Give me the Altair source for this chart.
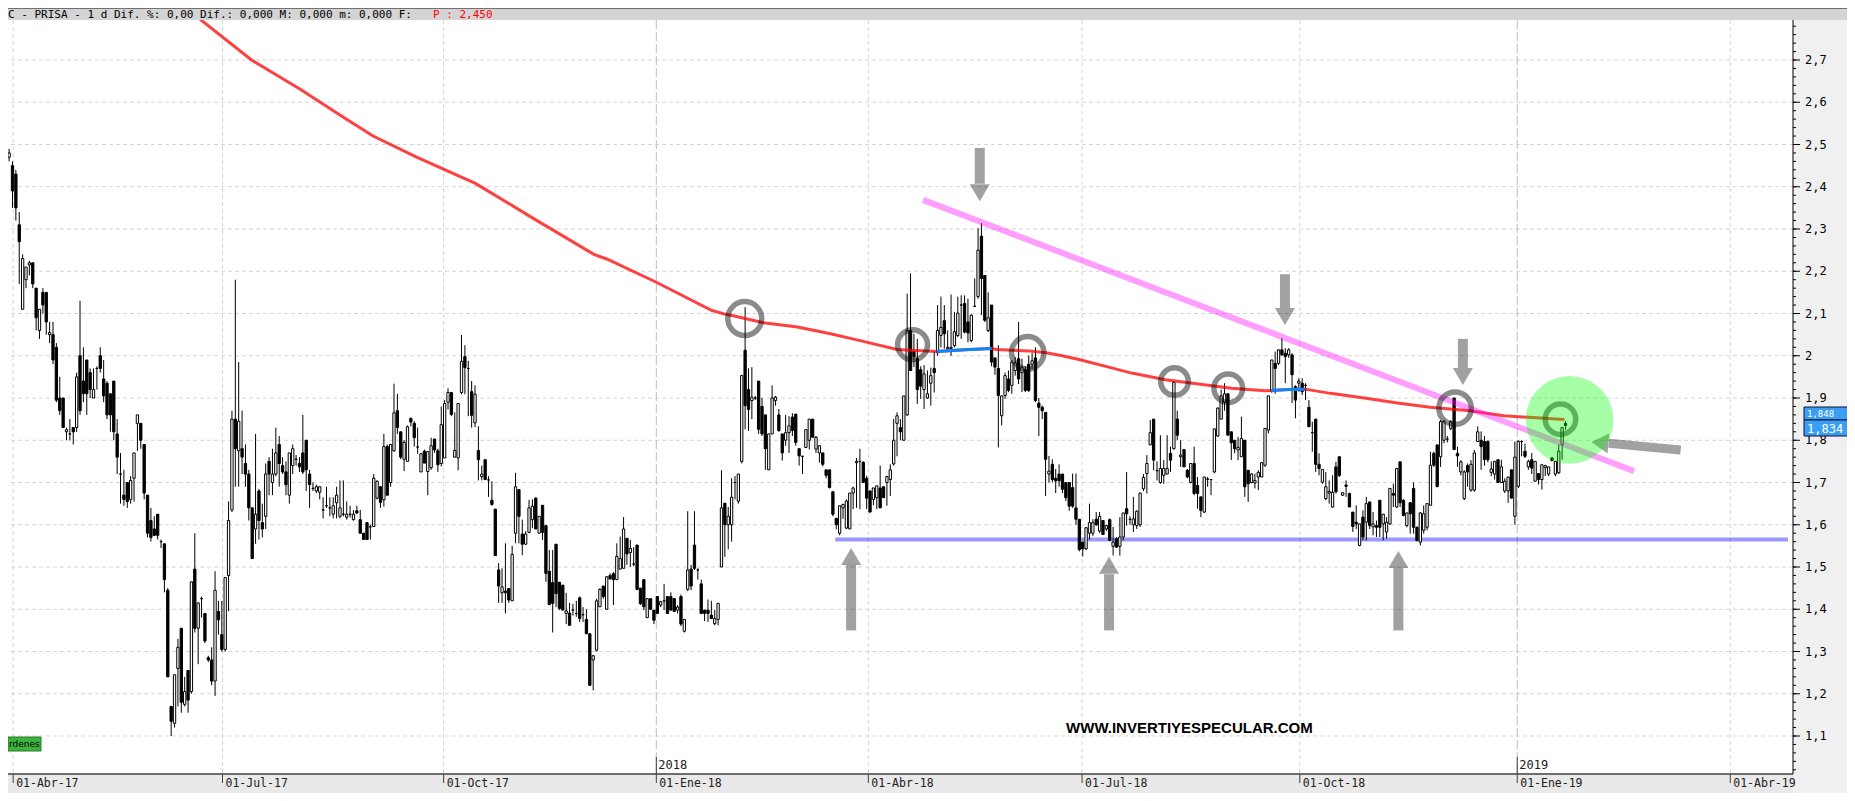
import altair as alt
import pandas as pd

# ---------------- candle data, by segment ----------------
open_a = [2.52, 2.47, 2.45, 2.43, 2.31, 2.11, 2.18, 2.215, 2.22, 2.16,
          2.06, 2.15, 2.15, 2.05, 2.05, 2.02, 1.90, 1.90, 1.82, 1.815,
          1.83, 1.83, 2.00, 1.94, 1.99, 1.96, 1.90, 1.97, 2.00, 1.945,
          1.935, 1.91, 1.94, 1.815, 1.72, 1.67, 1.70, 1.66, 1.71, 1.84,
          1.84, 1.79, 1.67, 1.61, 1.59, 1.625, 1.56, 1.555, 1.445, 1.17,
          1.13, 1.26, 1.355, 1.175, 1.255, 1.205, 1.495, 1.355, 1.425, 1.39,
          1.285, 1.28, 1.23, 1.395, 1.34, 1.305, 1.48, 1.635, 1.85, 1.775,
          1.78, 1.745, 1.72, 1.64, 1.59, 1.68, 1.605, 1.62, 1.75, 1.70,
          1.72, 1.79, 1.74, 1.725, 1.67, 1.74, 1.755, 1.745, 1.77, 1.80,
          1.72, 1.686, 1.68, 1.677, 1.635, 1.645, 1.64, 1.625, 1.652, 1.62,
          1.625, 1.618, 1.625, 1.612, 1.633, 1.612, 1.58, 1.605, 1.595, 1.596]
high_a = [2.53, 2.49, 2.46, 2.44, 2.34, 2.24, 2.21, 2.225, 2.22, 2.16,
          2.11, 2.16, 2.15, 2.08, 2.08, 2.03, 1.95, 1.90, 1.83, 1.85,
          1.83, 1.96, 2.13, 2.02, 1.99, 1.97, 1.97, 1.975, 2.02, 1.99,
          1.94, 1.91, 1.94, 1.85, 1.77, 1.73, 1.70, 1.715, 1.77, 1.86,
          1.84, 1.79, 1.67, 1.64, 1.62, 1.625, 1.565, 1.555, 1.45, 1.17,
          1.245, 1.33, 1.355, 1.24, 1.255, 1.465, 1.58, 1.415, 1.43, 1.39,
          1.29, 1.31, 1.49, 1.42, 1.42, 1.475, 1.655, 1.87, 2.18, 1.985,
          1.87, 1.79, 1.73, 1.64, 1.815, 1.685, 1.65, 1.745, 1.76, 1.78,
          1.83, 1.81, 1.76, 1.75, 1.77, 1.79, 1.765, 1.76, 1.86, 1.80,
          1.73, 1.70, 1.695, 1.69, 1.665, 1.69, 1.665, 1.665, 1.69, 1.705,
          1.705, 1.655, 1.645, 1.635, 1.645, 1.635, 1.58, 1.605, 1.60, 1.72]
low_a = [2.44, 2.46, 2.35, 2.32, 2.17, 2.11, 2.16, 2.19, 2.16, 2.06,
         2.04, 2.10, 2.05, 2.03, 1.98, 1.89, 1.86, 1.83, 1.80, 1.80,
         1.79, 1.82, 1.86, 1.89, 1.86, 1.90, 1.90, 1.92, 1.96, 1.89,
         1.85, 1.82, 1.80, 1.72, 1.65, 1.645, 1.64, 1.65, 1.655, 1.775,
         1.78, 1.66, 1.57, 1.56, 1.575, 1.565, 1.545, 1.44, 1.24, 1.10,
         1.12, 1.17, 1.155, 1.17, 1.155, 1.20, 1.345, 1.27, 1.38, 1.32,
         1.275, 1.22, 1.195, 1.34, 1.30, 1.30, 1.395, 1.63, 1.69, 1.69,
         1.72, 1.69, 1.61, 1.52, 1.555, 1.565, 1.57, 1.59, 1.67, 1.67,
         1.715, 1.69, 1.72, 1.67, 1.65, 1.72, 1.74, 1.725, 1.72, 1.68,
         1.64, 1.68, 1.675, 1.66, 1.615, 1.64, 1.62, 1.615, 1.615, 1.615,
         1.62, 1.612, 1.617, 1.61, 1.625, 1.58, 1.565, 1.565, 1.565, 1.595]
close_a = [2.46, 2.48, 2.39, 2.35, 2.27, 2.23, 2.21, 2.22, 2.17, 2.09,
           2.11, 2.12, 2.08, 2.055, 1.99, 1.895, 1.87, 1.83, 1.825, 1.815,
           1.82, 1.95, 1.87, 1.91, 1.91, 1.92, 1.92, 1.97, 1.97, 1.905,
           1.86, 1.86, 1.82, 1.76, 1.72, 1.66, 1.655, 1.705, 1.77, 1.86,
           1.80, 1.675, 1.58, 1.57, 1.575, 1.575, 1.56, 1.47, 1.24, 1.135,
           1.245, 1.31, 1.18, 1.205, 1.185, 1.465, 1.355, 1.415, 1.425, 1.325,
           1.28, 1.23, 1.445, 1.375, 1.305, 1.475, 1.61, 1.85, 1.78, 1.845,
           1.76, 1.72, 1.64, 1.52, 1.625, 1.61, 1.59, 1.72, 1.72, 1.72,
           1.77, 1.745, 1.725, 1.695, 1.77, 1.78, 1.755, 1.737, 1.725, 1.73,
           1.695, 1.686, 1.69, 1.69, 1.635, 1.645, 1.64, 1.645, 1.67, 1.64,
           1.625, 1.625, 1.625, 1.625, 1.628, 1.58, 1.565, 1.565, 1.595, 1.71]

open_b = [1.663, 1.69, 1.659, 1.785, 1.70, 1.775, 1.87, 1.82, 1.755, 1.75,
          1.852, 1.84, 1.784, 1.725, 1.774, 1.726, 1.735, 1.803, 1.775, 1.745,
          1.758, 1.89, 1.913, 1.76, 1.758, 1.913, 1.998, 1.97, 1.915, 1.841,
          1.776, 1.714, 1.754, 1.706, 1.658, 1.637, 1.493, 1.439, 1.443, 1.449,
          1.42, 1.58, 1.683, 1.578, 1.554, 1.582, 1.612, 1.663, 1.58, 1.646,
          1.598, 1.49, 1.463, 1.554, 1.464, 1.457, 1.39, 1.391, 1.398, 1.39,
          1.427, 1.387, 1.376, 1.342, 1.28, 1.303, 1.406, 1.455, 1.40, 1.48,
          1.484, 1.47, 1.495, 1.497, 1.568, 1.534, 1.507, 1.552, 1.45, 1.47,
          1.38, 1.425, 1.398, 1.43, 1.41, 1.42, 1.43, 1.43, 1.425, 1.398,
          1.43, 1.348, 1.447, 1.495, 1.552, 1.493, 1.46, 1.398, 1.398, 1.386,
          1.366, 1.376, 1.50, 1.651, 1.60]
high_b = [1.705, 1.69, 1.815, 1.79, 1.79, 1.934, 1.91, 1.82, 1.80, 1.835,
          1.853, 1.845, 1.83, 1.77, 1.778, 1.774, 1.806, 1.803, 1.78, 1.88,
          1.895, 1.923, 1.913, 1.866, 1.887, 2.049, 2.025, 1.988, 1.94, 1.93,
          1.833, 1.74, 1.754, 1.715, 1.703, 1.637, 1.509, 1.497, 1.556, 1.45,
          1.55, 1.723, 1.683, 1.612, 1.585, 1.659, 1.66, 1.665, 1.62, 1.646,
          1.598, 1.54, 1.54, 1.554, 1.464, 1.457, 1.439, 1.415, 1.413, 1.42,
          1.43, 1.405, 1.40, 1.342, 1.29, 1.425, 1.45, 1.455, 1.477, 1.485,
          1.488, 1.556, 1.572, 1.618, 1.568, 1.564, 1.547, 1.552, 1.45, 1.47,
          1.426, 1.425, 1.398, 1.43, 1.42, 1.46, 1.43, 1.44, 1.425, 1.41,
          1.435, 1.376, 1.632, 1.505, 1.632, 1.497, 1.47, 1.398, 1.423, 1.42,
          1.398, 1.414, 1.729, 1.651, 1.642]
low_b = [1.66, 1.64, 1.643, 1.67, 1.69, 1.773, 1.815, 1.755, 1.727, 1.75,
         1.833, 1.785, 1.768, 1.725, 1.746, 1.67, 1.73, 1.77, 1.725, 1.738,
         1.758, 1.873, 1.857, 1.76, 1.729, 1.909, 1.909, 1.857, 1.83, 1.831,
         1.705, 1.705, 1.707, 1.666, 1.645, 1.527, 1.415, 1.415, 1.39, 1.415,
         1.42, 1.556, 1.556, 1.528, 1.552, 1.58, 1.592, 1.59, 1.58, 1.564,
         1.465, 1.41, 1.345, 1.405, 1.398, 1.398, 1.365, 1.362, 1.385, 1.382,
         1.37, 1.37, 1.342, 1.22, 1.208, 1.30, 1.405, 1.425, 1.40, 1.47,
         1.41, 1.47, 1.495, 1.497, 1.505, 1.50, 1.502, 1.445, 1.41, 1.398,
         1.38, 1.398, 1.365, 1.39, 1.405, 1.398, 1.39, 1.398, 1.395, 1.39,
         1.36, 1.345, 1.443, 1.445, 1.493, 1.47, 1.39, 1.372, 1.37, 1.378,
         1.362, 1.362, 1.50, 1.524, 1.542]
close_b = [1.703, 1.653, 1.785, 1.67, 1.79, 1.865, 1.83, 1.76, 1.795, 1.832,
           1.843, 1.806, 1.784, 1.768, 1.746, 1.773, 1.787, 1.777, 1.742, 1.837,
           1.887, 1.913, 1.861, 1.776, 1.887, 1.987, 1.972, 1.97, 1.859, 1.909,
           1.754, 1.72, 1.707, 1.706, 1.648, 1.527, 1.455, 1.453, 1.439, 1.422,
           1.53, 1.69, 1.62, 1.554, 1.578, 1.64, 1.644, 1.59, 1.62, 1.582,
           1.485, 1.411, 1.414, 1.437, 1.402, 1.398, 1.396, 1.362, 1.398, 1.39,
           1.378, 1.387, 1.342, 1.22, 1.29, 1.42, 1.447, 1.43, 1.477, 1.472,
           1.47, 1.525, 1.52, 1.59, 1.531, 1.544, 1.507, 1.447, 1.413, 1.406,
           1.425, 1.40, 1.374, 1.39, 1.418, 1.42, 1.39, 1.398, 1.395, 1.405,
           1.365, 1.376, 1.493, 1.455, 1.497, 1.493, 1.39, 1.39, 1.39, 1.378,
           1.378, 1.414, 1.64, 1.60, 1.62]

open_j = [1.60, 1.70, 1.656]
high_j = [1.71, 1.715, 1.72]
low_j = [1.56, 1.66, 1.65]
close_j = [1.665, 1.70, 1.72]

open_c = [1.75, 2.013, 1.92, 1.894, 1.90, 1.94, 1.88, 1.86, 1.73, 1.815,
          1.894, 1.86, 1.815, 1.80, 1.818, 1.855, 1.862, 1.78, 1.762, 1.783,
          1.80, 1.85, 1.779, 1.77, 1.77, 1.73, 1.73, 1.678, 1.615, 1.58,
          1.64, 1.592, 1.59, 1.675, 1.747, 1.75, 1.748, 1.71, 1.68, 1.66,
          1.664, 1.687, 1.69, 1.70, 1.707, 1.744, 1.84, 1.83, 1.80, 1.86,
          2.06, 2.01, 1.993, 1.967, 1.92, 1.90, 1.935, 1.97, 2.007, 2.048,
          2.083, 2.017, 2.017, 2.024, 2.048, 2.12, 2.124, 2.08, 2.036, 2.117,
          2.14, 2.283, 2.19, 2.06, 2.12, 1.995, 1.97, 1.858, 1.906, 1.945,
          1.93, 1.965, 1.993, 1.96, 1.967, 1.98, 1.98, 1.995, 1.888, 1.878,
          1.866, 1.72, 1.743, 1.71, 1.72, 1.72, 1.70, 1.70, 1.688, 1.64,
          1.613, 1.559, 1.543, 1.58, 1.58, 1.613, 1.585, 1.61]
high_c = [1.955, 2.115, 1.97, 1.973, 1.905, 1.94, 1.90, 1.86, 1.815, 1.93,
          1.905, 1.874, 1.815, 1.86, 1.857, 1.864, 1.862, 1.78, 1.763, 1.825,
          1.85, 1.85, 1.81, 1.787, 1.77, 1.73, 1.73, 1.68, 1.617, 1.645,
          1.65, 1.66, 1.675, 1.69, 1.758, 1.78, 1.75, 1.716, 1.68, 1.688,
          1.692, 1.74, 1.69, 1.716, 1.743, 1.85, 1.866, 1.85, 1.905, 2.147,
          2.195, 2.052, 2.04, 1.975, 1.978, 1.965, 1.972, 2.01, 2.12, 2.14,
          2.12, 2.06, 2.145, 2.104, 2.14, 2.143, 2.143, 2.135, 2.098, 2.183,
          2.302, 2.314, 2.19, 2.15, 2.12, 1.995, 2.025, 1.905, 1.96, 1.965,
          1.99, 1.997, 2.08, 1.993, 1.975, 2.0, 2.006, 2.02, 1.90, 1.882,
          1.866, 1.763, 1.755, 1.732, 1.743, 1.72, 1.70, 1.70, 1.721, 1.721,
          1.613, 1.559, 1.593, 1.65, 1.613, 1.63, 1.63, 1.61]
low_c = [1.745, 1.826, 1.822, 1.85, 1.895, 1.815, 1.81, 1.73, 1.73, 1.815,
         1.882, 1.82, 1.752, 1.787, 1.77, 1.81, 1.787, 1.74, 1.72, 1.782,
         1.778, 1.807, 1.77, 1.747, 1.738, 1.71, 1.686, 1.62, 1.589, 1.575,
         1.614, 1.59, 1.59, 1.637, 1.64, 1.637, 1.70, 1.637, 1.63, 1.646,
         1.637, 1.64, 1.664, 1.645, 1.668, 1.74, 1.762, 1.80, 1.80, 1.858,
         1.965, 1.973, 1.886, 1.898, 1.874, 1.898, 1.882, 1.913, 2.0, 2.02,
         2.017, 2.015, 2.0, 2.02, 2.044, 2.04, 2.053, 2.032, 2.032, 2.115,
         2.135, 2.096, 2.08, 2.056, 1.975, 1.955, 1.783, 1.835, 1.898, 1.914,
         1.91, 1.953, 1.933, 1.914, 1.914, 1.914, 1.968, 1.89, 1.81, 1.85,
         1.668, 1.70, 1.70, 1.675, 1.69, 1.675, 1.656, 1.633, 1.64, 1.60,
         1.537, 1.525, 1.54, 1.565, 1.573, 1.597, 1.58, 1.577]
close_c = [1.953, 1.882, 1.873, 1.902, 1.90, 1.826, 1.815, 1.78, 1.815, 1.90,
           1.902, 1.823, 1.77, 1.818, 1.834, 1.823, 1.795, 1.763, 1.762, 1.825,
           1.85, 1.807, 1.807, 1.787, 1.743, 1.717, 1.688, 1.625, 1.60, 1.645,
           1.648, 1.656, 1.675, 1.687, 1.75, 1.75, 1.70, 1.663, 1.63, 1.687,
           1.692, 1.64, 1.664, 1.714, 1.73, 1.80, 1.858, 1.82, 1.905, 2.06,
           1.965, 1.998, 1.92, 1.928, 1.957, 1.91, 1.953, 1.96, 2.06, 2.067,
           2.052, 2.02, 2.02, 2.057, 2.101, 2.12, 2.056, 2.054, 2.096, 2.117,
           2.25, 2.183, 2.084, 2.09, 1.985, 1.973, 1.906, 1.905, 1.953, 1.918,
           1.985, 1.983, 1.945, 1.973, 1.918, 1.918, 1.988, 1.894, 1.878, 1.87,
           1.755, 1.727, 1.707, 1.704, 1.704, 1.684, 1.664, 1.644, 1.644, 1.613,
           1.541, 1.543, 1.593, 1.605, 1.605, 1.60, 1.62, 1.577]

open_d = [1.59, 1.612, 1.549, 1.567, 1.549, 1.571, 1.638, 1.613, 1.60, 1.598,
          1.60, 1.685, 1.721, 1.789, 1.85, 1.728, 1.70, 1.717, 1.72, 1.769,
          1.78, 1.85, 1.761, 1.778, 1.729, 1.70, 1.745, 1.693, 1.666, 1.63,
          1.708, 1.707, 1.725, 1.81, 1.85, 1.89, 1.91, 1.82, 1.80, 1.777,
          1.761, 1.80, 1.729, 1.70, 1.699, 1.713, 1.713, 1.741, 1.824, 1.915,
          1.982, 1.982, 2.014, 2.006, 2.002, 2.002, 1.927, 1.935, 1.935, 1.93,
          1.878, 1.818, 1.85, 1.743, 1.701, 1.662, 1.675, 1.642, 1.737, 1.761,
          1.67, 1.694, 1.674, 1.63, 1.606, 1.551, 1.618, 1.606, 1.654, 1.595,
          1.598, 1.658, 1.602, 1.583, 1.602, 1.674, 1.642, 1.749, 1.658, 1.598,
          1.652, 1.686, 1.594, 1.559, 1.587, 1.594, 1.646, 1.769, 1.789, 1.761,
          1.80, 1.803, 1.828, 1.90, 1.769, 1.725, 1.662, 1.74, 1.682, 1.682]
high_d = [1.60, 1.615, 1.595, 1.57, 1.618, 1.628, 1.725, 1.62, 1.666, 1.634,
          1.676, 1.72, 1.765, 1.848, 1.85, 1.75, 1.812, 1.753, 1.812, 1.785,
          1.94, 1.87, 1.80, 1.778, 1.732, 1.745, 1.785, 1.713, 1.666, 1.713,
          1.713, 1.708, 1.827, 1.878, 1.92, 1.935, 1.91, 1.82, 1.80, 1.808,
          1.856, 1.80, 1.729, 1.722, 1.721, 1.729, 1.747, 1.828, 1.905, 1.99,
          2.01, 2.014, 2.042, 2.018, 2.018, 2.006, 1.93, 1.947, 1.947, 1.935,
          1.895, 1.844, 1.85, 1.769, 1.731, 1.725, 1.705, 1.717, 1.749, 1.761,
          1.676, 1.705, 1.676, 1.63, 1.646, 1.602, 1.634, 1.666, 1.654, 1.63,
          1.61, 1.658, 1.625, 1.618, 1.686, 1.697, 1.733, 1.749, 1.66, 1.628,
          1.654, 1.70, 1.596, 1.63, 1.646, 1.65, 1.773, 1.773, 1.789, 1.848,
          1.848, 1.81, 1.848, 1.90, 1.785, 1.753, 1.729, 1.745, 1.753, 1.777]
low_d = [1.585, 1.563, 1.527, 1.545, 1.527, 1.563, 1.598, 1.60, 1.583, 1.59,
         1.595, 1.68, 1.674, 1.789, 1.729, 1.705, 1.697, 1.697, 1.72, 1.725,
         1.778, 1.80, 1.737, 1.737, 1.71, 1.698, 1.67, 1.638, 1.618, 1.628,
         1.69, 1.67, 1.722, 1.808, 1.85, 1.87, 1.812, 1.753, 1.769, 1.753,
         1.761, 1.666, 1.654, 1.698, 1.686, 1.682, 1.713, 1.737, 1.816, 1.913,
         1.91, 1.978, 2.0, 1.935, 1.995, 1.888, 1.852, 1.915, 1.907, 1.895,
         1.832, 1.773, 1.725, 1.717, 1.697, 1.658, 1.65, 1.64, 1.674, 1.713,
         1.668, 1.666, 1.642, 1.583, 1.59, 1.549, 1.563, 1.563, 1.59, 1.575,
         1.571, 1.571, 1.563, 1.567, 1.60, 1.642, 1.64, 1.642, 1.62, 1.594,
         1.579, 1.579, 1.561, 1.551, 1.579, 1.587, 1.646, 1.737, 1.69, 1.737,
         1.793, 1.795, 1.824, 1.778, 1.737, 1.717, 1.658, 1.69, 1.678, 1.678]
close_d = [1.598, 1.563, 1.559, 1.547, 1.571, 1.628, 1.626, 1.613, 1.614, 1.632,
           1.675, 1.712, 1.745, 1.818, 1.753, 1.728, 1.733, 1.733, 1.733, 1.753,
           1.937, 1.812, 1.765, 1.737, 1.713, 1.745, 1.674, 1.674, 1.634, 1.713,
           1.708, 1.707, 1.827, 1.876, 1.905, 1.91, 1.812, 1.794, 1.78, 1.783,
           1.804, 1.69, 1.697, 1.72, 1.705, 1.724, 1.747, 1.828, 1.905, 1.99,
           1.97, 2.014, 2.002, 1.998, 2.014, 1.955, 1.895, 1.94, 1.915, 1.93,
           1.832, 1.818, 1.743, 1.733, 1.731, 1.69, 1.679, 1.677, 1.678, 1.717,
           1.676, 1.691, 1.642, 1.596, 1.602, 1.602, 1.571, 1.65, 1.598, 1.602,
           1.594, 1.594, 1.625, 1.606, 1.686, 1.67, 1.733, 1.652, 1.622, 1.628,
           1.626, 1.594, 1.563, 1.628, 1.626, 1.65, 1.741, 1.741, 1.69, 1.844,
           1.844, 1.803, 1.844, 1.778, 1.763, 1.749, 1.725, 1.725, 1.743, 1.77]

open_e = [1.797, 1.80, 1.797, 1.797, 1.724, 1.72, 1.754, 1.70, 1.68, 1.68,
          1.73, 1.62, 1.691, 1.797, 1.774, 1.737, 1.754, 1.703, 1.721, 1.707,
          1.735, 1.72, 1.758, 1.72, 1.723, 1.79, 1.84]
high_e = [1.833, 1.821, 1.81, 1.80, 1.75, 1.75, 1.754, 1.754, 1.71, 1.713,
          1.73, 1.797, 1.80, 1.80, 1.792, 1.754, 1.77, 1.75, 1.721, 1.742,
          1.742, 1.737, 1.76, 1.75, 1.79, 1.83, 1.845]
low_e = [1.797, 1.73, 1.74, 1.748, 1.715, 1.707, 1.70, 1.70, 1.675, 1.652,
         1.663, 1.60, 1.687, 1.762, 1.758, 1.73, 1.72, 1.703, 1.695, 1.683,
         1.715, 1.715, 1.75, 1.715, 1.72, 1.754, 1.825]
close_e = [1.82, 1.785, 1.754, 1.754, 1.732, 1.75, 1.70, 1.737, 1.703, 1.713,
           1.663, 1.76, 1.797, 1.797, 1.762, 1.75, 1.734, 1.75, 1.707, 1.742,
           1.74, 1.737, 1.752, 1.75, 1.774, 1.83, 1.835]

for seg in [(open_a, high_a, low_a, close_a), (open_b, high_b, low_b, close_b),
            (open_j, high_j, low_j, close_j), (open_c, high_c, low_c, close_c),
            (open_d, high_d, low_d, close_d), (open_e, high_e, low_e, close_e)]:
    assert len(set(len(s) for s in seg)) == 1, [len(s) for s in seg]

opens = open_a + open_b + open_j + open_c + open_d + open_e
highs = high_a + high_b + high_j + high_c + high_d + high_e
lows = low_a + low_b + low_j + low_c + low_d + low_e
closes = close_a + close_b + close_j + close_c + close_d + close_e

# 200-session moving average (session index, value)
ma_idx = [54.3, 57.8, 72.8, 87.0, 99.9, 108.8, 121.7, 139.1, 156.5, 174.2, 178.0,
          192.7, 208.9, 212.8, 214.8, 224.5, 234.5, 244.3, 254.0, 264.0, 267.8,
          275.8, 284.0, 292.0, 293.5, 303.2, 308.2, 312.9, 317.9, 326.7, 333.5,
          343.5, 353.3, 363.0, 373.0, 374.8, 380.0, 384.8, 392.4, 402.4, 412.2,
          421.9, 433.7, 443.7, 453.4, 461.7]
ma_val = [2.83, 2.795, 2.70, 2.632, 2.565, 2.52, 2.47, 2.408, 2.324, 2.24, 2.229,
          2.174, 2.108, 2.099, 2.096, 2.078, 2.068, 2.052, 2.034, 2.015, 2.013,
          2.01, 2.014, 2.017, 2.015, 2.011, 2.007, 2.0, 1.991, 1.973, 1.959,
          1.943, 1.933, 1.923, 1.917, 1.918, 1.92, 1.921, 1.911, 1.90, 1.888,
          1.878, 1.87, 1.858, 1.853, 1.849]
blue_idx = [275.8, 284.0, 292.0, 374.8, 380.0, 384.8]
blue_val = [2.01, 2.014, 2.017, 1.918, 1.92, 1.921]
blue_seg = [1, 1, 1, 2, 2, 2]

# price axis
y_ticks = [1.1, 1.2, 1.3, 1.4, 1.5, 1.6, 1.7, 1.8, 1.9, 2.0, 2.1, 2.2, 2.3, 2.4, 2.5, 2.6, 2.7]
y_labels = ["1,1", "1,2", "1,3", "1,4", "1,5", "1,6", "1,7", "1,8", "1,9", "2",
            "2,1", "2,2", "2,3", "2,4", "2,5", "2,6", "2,7"]
minor_ticks = [round(1.02 + 0.02 * k, 2) for k in range(89)]

# date axis
tick_pos = [2.2, 64.2, 129.7, 255.5, 318.8, 383.3, 510.8]
tick_labels = ["01-Abr-17", "01-Jul-17", "01-Oct-17", "01-Abr-18", "01-Jul-18", "01-Oct-18", "01-Abr-19"]
year_pos = [192.7, 447.7]
year_tick_labels = ["01-Ene-18", "01-Ene-19"]
year_labels = ["2018", "2019"]

# annotations
support_val = 1.565
support_from = 245.7
trend_x = [271.7]
trend_x2 = [482.3]
trend_y = [2.369]
trend_y2 = [1.727]
ring_idx = [218.9, 268.6, 302.7, 346.2, 362.1, 429.3, 460.5]
ring_val = [2.088, 2.026, 2.007, 1.939, 1.923, 1.876, 1.85]
ring_size = [1150, 900, 1050, 760, 820, 1050, 930]
green_idx = [463.2]
green_val = [1.848]
down_x = [288.5, 378.9, 431.6]
down_top = [2.492, 2.193, 2.040]
down_base = [2.407, 2.113, 1.971]
down_head = [2.386, 2.093, 1.951]
up_x = [250.4, 326.8, 412.5]
up_bottom = [1.35, 1.35, 1.35]
up_base = [1.505, 1.483, 1.498]
up_head = [1.525, 1.504, 1.518]
left_tail = (496.1, 1.777)
left_base = (474.8, 1.793)
left_head = (472.2, 1.794)

# ---------------- chart ----------------
W, H = 1785, 754
X_DOM = [2.15, 527.9]
Y_DOM = [1.01006, 2.7947]
xs = alt.Scale(domain=X_DOM, nice=False, zero=False)
ys = alt.Scale(domain=Y_DOM, nice=False, zero=False)
MONO = "DejaVu Sans Mono"


def X(f):
    return alt.X(f, type="quantitative", scale=xs, axis=None)


def Y(f):
    return alt.Y(f, type="quantitative", scale=ys, axis=None)


one = pd.DataFrame({"a": [0]})

df = pd.DataFrame({"i": list(range(len(closes))), "o": opens, "h": highs, "l": lows, "c": closes})
df["fill"] = ["white" if c >= o else "black" for o, c in zip(opens, closes)]

layers = []

# white plot area and bottom band
layers.append(alt.Chart(one).mark_rect(color="white").encode(
    x=alt.value(0), x2=alt.value(W), y=alt.value(0), y2=alt.value(H)))
layers.append(alt.Chart(one).mark_rect(color="#E9E9E9").encode(
    x=alt.value(0), x2=alt.value(W), y=alt.value(H), y2=alt.value(H + 19)))

# horizontal grid
layers.append(alt.Chart(pd.DataFrame({"v": y_ticks})).mark_rule(
    color="#D5D5D5", strokeDash=[4, 3], strokeWidth=1).encode(y=Y("v")))

# vertical grid
layers.append(alt.Chart(pd.DataFrame({"x": tick_pos})).mark_rule(
    color="#D5D5D5", strokeDash=[4, 3], strokeWidth=1).encode(x=X("x")))
layers.append(alt.Chart(pd.DataFrame({"x": year_pos})).mark_rule(
    color="#BEBEBE", strokeDash=[9, 3], strokeWidth=1).encode(x=X("x")))

# support line
layers.append(alt.Chart(pd.DataFrame({"x": [support_from], "x2": [X_DOM[1]], "y": [support_val]})).mark_rule(
    color="#0000FF", opacity=0.4, strokeWidth=4, clip=True).encode(x=X("x"), x2="x2", y=Y("y")))

# candles
layers.append(alt.Chart(df).mark_rule(color="black", strokeWidth=1, clip=True).encode(
    x=X("i"), y=Y("l"), y2="h"))
layers.append(alt.Chart(df).mark_bar(size=2.3, stroke="black", strokeWidth=1, clip=True).encode(
    x=X("i"), y=Y("o"), y2="c", fill=alt.Fill("fill:N", scale=None)))

# moving average
layers.append(alt.Chart(pd.DataFrame({"i": ma_idx, "v": ma_val})).mark_line(
    color="#FF0000", opacity=0.75, strokeWidth=3, clip=True).encode(x=X("i"), y=Y("v")))
layers.append(alt.Chart(pd.DataFrame({"i": blue_idx, "v": blue_val, "s": blue_seg})).mark_line(
    color="#0A84FF", strokeWidth=3, clip=True).encode(x=X("i"), y=Y("v"), detail="s:N"))

# descending trend line
layers.append(alt.Chart(pd.DataFrame({"x": trend_x, "x2": trend_x2, "y": trend_y, "y2": trend_y2})).mark_rule(
    color="#FF00FF", opacity=0.38, strokeWidth=6).encode(x=X("x"), x2="x2", y=Y("y"), y2="y2"))

# rings
layers.append(alt.Chart(pd.DataFrame({"i": ring_idx, "v": ring_val, "s": ring_size})).mark_point(
    shape="circle", filled=False, color="black", opacity=0.45, strokeWidth=5.5).encode(
    x=X("i"), y=Y("v"), size=alt.Size("s:Q", scale=None)))

# arrows
ARW = dict(color="black", opacity=0.37)
layers.append(alt.Chart(pd.DataFrame({"x": down_x, "a": down_top, "b": down_base})).mark_rule(
    strokeWidth=10, strokeCap="butt", **ARW).encode(x=X("x"), y=Y("a"), y2="b"))
layers.append(alt.Chart(pd.DataFrame({"x": down_x, "y": down_head})).mark_point(
    shape="M-1,-0.85L1,-0.85L0,0.85Z", filled=True, size=400, strokeWidth=0, **ARW).encode(x=X("x"), y=Y("y")))
layers.append(alt.Chart(pd.DataFrame({"x": up_x, "a": up_bottom, "b": up_base})).mark_rule(
    strokeWidth=10, strokeCap="butt", **ARW).encode(x=X("x"), y=Y("a"), y2="b"))
layers.append(alt.Chart(pd.DataFrame({"x": up_x, "y": up_head})).mark_point(
    shape="M-1,0.85L1,0.85L0,-0.85Z", filled=True, size=400, strokeWidth=0, **ARW).encode(x=X("x"), y=Y("y")))
layers.append(alt.Chart(pd.DataFrame({"x": [left_tail[0]], "y": [left_tail[1]],
                                      "x2": [left_base[0]], "y2": [left_base[1]]})).mark_rule(
    strokeWidth=9, strokeCap="butt", **ARW).encode(x=X("x"), y=Y("y"), x2="x2", y2="y2"))
layers.append(alt.Chart(pd.DataFrame({"x": [left_head[0]], "y": [left_head[1]]})).mark_point(
    shape="M-0.85,0L0.85,-1L0.85,1Z", filled=True, size=400, strokeWidth=0, angle=5, **ARW).encode(
    x=X("x"), y=Y("y")))

# green highlight
layers.append(alt.Chart(pd.DataFrame({"x": green_idx, "y": green_val})).mark_point(
    shape="circle", filled=True, color="#00FF00", opacity=0.35, size=7700, strokeWidth=0).encode(
    x=X("x"), y=Y("y")))

# watermark
layers.append(alt.Chart(pd.DataFrame({"x": [350.6], "y": [1.12]})).mark_text(
    text="WWW.INVERTIYESPECULAR.COM", font="Liberation Sans", fontWeight="bold", fontSize=15,
    color="black", align="center", baseline="middle").encode(x=X("x"), y=Y("y")))

# "Órdenes" tab (cut at left edge)
layers.append(alt.Chart(one).mark_rect(color="#3DB33D", stroke="#2A7A2A", strokeWidth=1).encode(
    x=alt.value(0), x2=alt.value(33), y=alt.value(717), y2=alt.value(731)))
layers.append(alt.Chart(one).mark_text(text="rdenes", font="DejaVu Sans", fontSize=9,
                                       color="black", align="left", baseline="middle").encode(
    x=alt.value(1), y=alt.value(724)))

# bottom date axis
layers.append(alt.Chart(one).mark_rule(color="#404040", strokeWidth=1.5).encode(
    x=alt.value(0), x2=alt.value(W), y=alt.value(H), y2=alt.value(H)))
all_ticks = pd.DataFrame({"x": tick_pos + year_pos, "t": tick_labels + year_tick_labels})
layers.append(alt.Chart(all_ticks).mark_rule(color="#404040", strokeWidth=1).encode(
    x=X("x"), y=alt.value(H), y2=alt.value(H + 9)))
layers.append(alt.Chart(all_ticks).mark_text(font=MONO, fontSize=11.5, color="#202020",
                                             align="left", baseline="middle", dx=3).encode(
    x=X("x"), y=alt.value(H + 10), text="t:N"))
years = pd.DataFrame({"x": year_pos, "t": year_labels})
layers.append(alt.Chart(years).mark_rule(color="#404040", strokeWidth=1).encode(
    x=X("x"), y=alt.value(H - 17), y2=alt.value(H)))
layers.append(alt.Chart(years).mark_text(font=MONO, fontSize=12, color="#202020",
                                         align="left", baseline="middle", dx=2).encode(
    x=X("x"), y=alt.value(H - 9), text="t:N"))

# right price axis: line, major/minor ticks, labels
layers.append(alt.Chart(one).mark_rule(color="black", strokeWidth=1).encode(
    x=alt.value(W), x2=alt.value(W), y=alt.value(0), y2=alt.value(H)))
layers.append(alt.Chart(pd.DataFrame({"v": minor_ticks})).mark_rule(color="black", strokeWidth=1).encode(
    x=alt.value(W), x2=alt.value(W + 3), y=Y("v")))
ylab = pd.DataFrame({"v": y_ticks, "t": y_labels})
layers.append(alt.Chart(ylab).mark_rule(color="black", strokeWidth=1).encode(
    x=alt.value(W), x2=alt.value(W + 7), y=Y("v")))
layers.append(alt.Chart(ylab).mark_text(font=MONO, fontSize=12, color="black",
                                        align="left", baseline="middle").encode(
    x=alt.value(W + 12), y=Y("v"), text="t:N"))

# last price boxes
layers.append(alt.Chart(one).mark_rect(color="#3A9FF2", stroke="#101040", strokeWidth=1).encode(
    x=alt.value(W + 11), x2=alt.value(W + 56), y=alt.value(387), y2=alt.value(400)))
layers.append(alt.Chart(one).mark_text(text="1,848", font=MONO, fontSize=9, color="white",
                                       align="left", baseline="middle").encode(
    x=alt.value(W + 14), y=alt.value(393.5)))
layers.append(alt.Chart(one).mark_rect(color="#3A9FF2", stroke="#101040", strokeWidth=1).encode(
    x=alt.value(W + 11), x2=alt.value(W + 56), y=alt.value(400), y2=alt.value(416)))
layers.append(alt.Chart(one).mark_text(text="1,834", font=MONO, fontSize=12, color="white",
                                       align="left", baseline="middle").encode(
    x=alt.value(W + 14), y=alt.value(408.5)))

# header bar
layers.append(alt.Chart(one).mark_rect(color="#D4D4D4").encode(
    x=alt.value(0), x2=alt.value(W + 54), y=alt.value(-12), y2=alt.value(0)))
layers.append(alt.Chart(one).mark_rule(color="#707070", strokeWidth=1).encode(
    x=alt.value(0), x2=alt.value(W + 54), y=alt.value(-11.5), y2=alt.value(-11.5)))
layers.append(alt.Chart(one).mark_text(
    text="C - PRISA -  1 d Dif. %: 0,00 Dif.: 0,000 M: 0,000 m: 0,000 F:",
    font=MONO, fontSize=11, color="black", align="left", baseline="middle").encode(
    x=alt.value(0), y=alt.value(-5.5)))
layers.append(alt.Chart(one).mark_text(text="P : 2,450", font=MONO, fontSize=11, color="#FF0000",
                                       align="left", baseline="middle").encode(
    x=alt.value(425), y=alt.value(-5.5)))

chart = alt.layer(*layers).properties(
    width=W, height=H,
    padding={"left": 0, "top": 12, "right": 54, "bottom": 19},
    autosize=alt.AutoSizeParams(type="none"),
    background="#F0F0F0",
).configure_view(stroke=None)

chart.save("out.html", embed_options={"renderer": "svg", "actions": False})
